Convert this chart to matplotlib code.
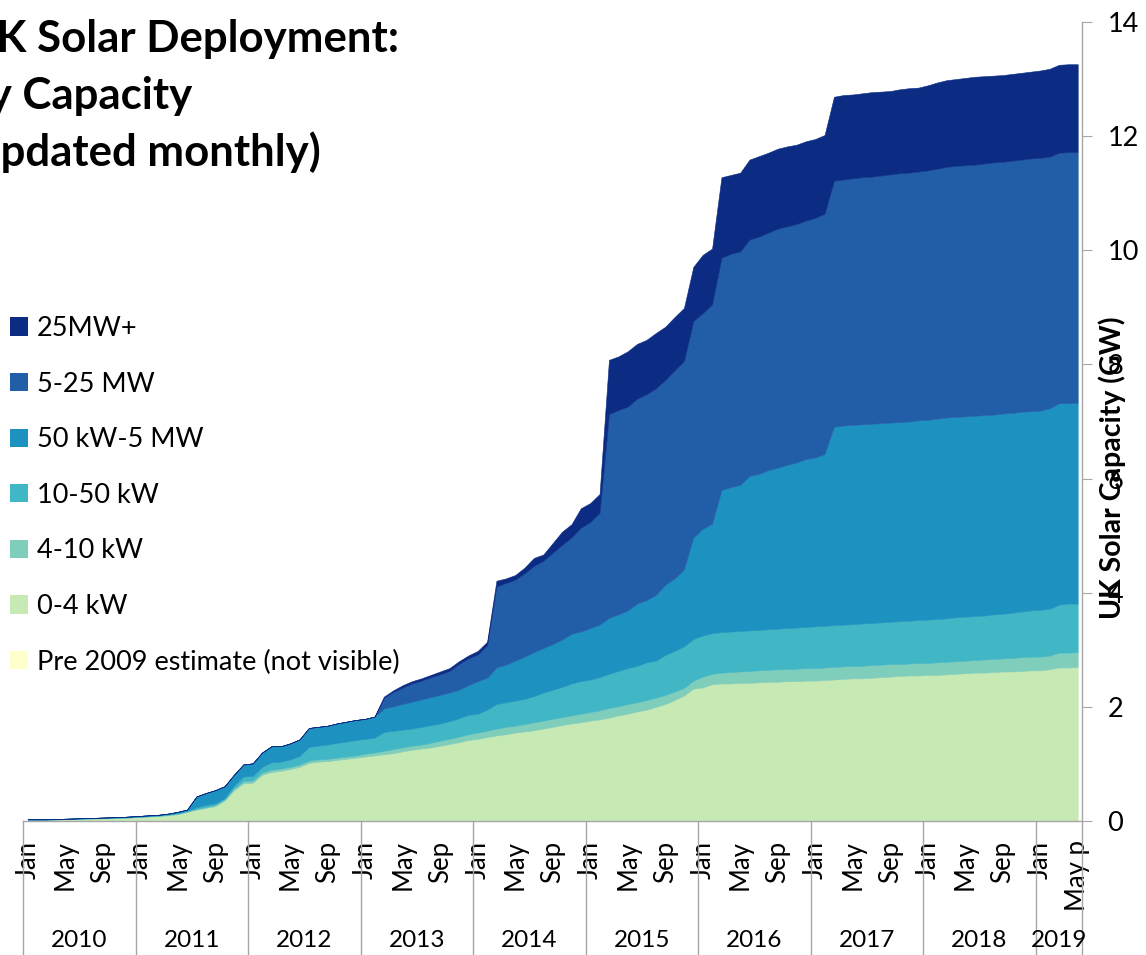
import numpy as np
import matplotlib
matplotlib.use("Agg")
import matplotlib.pyplot as plt
import matplotlib.transforms as mtransforms
from matplotlib.patches import Patch

plt.rcParams['font.family'] = ['Lato', 'DejaVu Sans']

# Años y etiquetas del eje x (meses de enero 2010 a mayo 2019)
years = [2010, 2011, 2012, 2013, 2014, 2015, 2016, 2017, 2018, 2019]
month_names = ['Jan', 'Feb', 'Mar', 'Apr', 'May', 'Jun',
               'Jul', 'Aug', 'Sep', 'Oct', 'Nov', 'Dec']
shown_months = ['Jan', 'May', 'Sep']
last_label = 'May p'

# Estimación pre 2009 (GW), constante
pre_2009_gw = 0.01

# Capacidad acumulada (GW) hasta cada banda de tamaño
cum_0_4kw = [
    0.02, 0.02, 0.02, 0.025, 0.03, 0.034, 0.038, 0.042, 0.046, 0.05, 0.054, 0.06,
    0.07, 0.08, 0.09, 0.10, 0.12, 0.16, 0.20, 0.23, 0.26, 0.36, 0.54, 0.66,
    0.67, 0.81, 0.86, 0.88, 0.91, 0.95, 1.02, 1.04, 1.05, 1.07, 1.09, 1.11,
    1.13, 1.15, 1.17, 1.19, 1.22, 1.25, 1.27, 1.29, 1.32, 1.35, 1.38, 1.42,
    1.44, 1.47, 1.50, 1.52, 1.55, 1.57, 1.59, 1.62, 1.65, 1.68, 1.71, 1.73,
    1.76, 1.78, 1.81, 1.85, 1.88, 1.92, 1.95, 2.00, 2.05, 2.12, 2.20, 2.32,
    2.34, 2.40, 2.41, 2.41, 2.42, 2.42, 2.43, 2.44, 2.44, 2.45, 2.45, 2.46,
    2.46, 2.47, 2.48, 2.49, 2.50, 2.50, 2.51, 2.52, 2.53, 2.54, 2.55, 2.55,
    2.56, 2.56, 2.57, 2.58, 2.59, 2.60, 2.60, 2.61, 2.62, 2.62, 2.63, 2.64,
    2.64, 2.66, 2.69, 2.69, 2.70]
cum_4_10kw = [
    0.023, 0.023, 0.023, 0.028, 0.033, 0.037, 0.042, 0.046, 0.05, 0.055, 0.059, 0.065,
    0.075, 0.085, 0.095, 0.11, 0.13, 0.17, 0.21, 0.245, 0.28, 0.38, 0.57, 0.70,
    0.71, 0.85, 0.90, 0.92, 0.95, 0.99, 1.06, 1.08, 1.09, 1.11, 1.13, 1.15,
    1.18, 1.20, 1.23, 1.26, 1.29, 1.32, 1.34, 1.37, 1.41, 1.44, 1.48, 1.52,
    1.55, 1.58, 1.62, 1.65, 1.67, 1.70, 1.73, 1.76, 1.79, 1.82, 1.85, 1.88,
    1.91, 1.94, 1.98, 2.01, 2.05, 2.08, 2.12, 2.16, 2.21, 2.27, 2.33, 2.46,
    2.53, 2.58, 2.60, 2.61, 2.62, 2.63, 2.64, 2.65, 2.66, 2.66, 2.67, 2.68,
    2.68, 2.69, 2.70, 2.71, 2.72, 2.72, 2.73, 2.74, 2.75, 2.75, 2.76, 2.77,
    2.77, 2.78, 2.79, 2.80, 2.81, 2.82, 2.83, 2.84, 2.85, 2.86, 2.87, 2.88,
    2.88, 2.90, 2.95, 2.95, 2.96]
cum_10_50kw = [
    0.026, 0.026, 0.027, 0.032, 0.038, 0.042, 0.047, 0.052, 0.056, 0.061, 0.066, 0.073,
    0.08, 0.09, 0.10, 0.12, 0.14, 0.18, 0.24, 0.28, 0.31, 0.40, 0.62, 0.78,
    0.79, 0.95, 1.03, 1.04, 1.08, 1.14, 1.30, 1.32, 1.34, 1.37, 1.39, 1.42,
    1.44, 1.46, 1.56, 1.58, 1.60, 1.62, 1.65, 1.68, 1.71, 1.75, 1.80, 1.86,
    1.88, 1.95, 2.05, 2.08, 2.11, 2.14, 2.19, 2.25, 2.30, 2.35, 2.41, 2.45,
    2.48, 2.52, 2.58, 2.63, 2.68, 2.72, 2.78, 2.81, 2.91, 2.98, 3.06, 3.19,
    3.25, 3.29, 3.31, 3.32, 3.33, 3.34, 3.35, 3.36, 3.37, 3.38, 3.39, 3.40,
    3.41, 3.42, 3.43, 3.44, 3.45, 3.46, 3.47, 3.48, 3.49, 3.50, 3.51, 3.52,
    3.53, 3.54, 3.55, 3.57, 3.58, 3.59, 3.60, 3.62, 3.63, 3.65, 3.67, 3.69,
    3.70, 3.72, 3.79, 3.81, 3.81]
cum_50kw_5mw = [
    0.03, 0.03, 0.03, 0.035, 0.04, 0.045, 0.05, 0.055, 0.06, 0.065, 0.07, 0.08,
    0.09, 0.10, 0.11, 0.13, 0.16, 0.20, 0.43, 0.49, 0.54, 0.61, 0.81, 0.99,
    1.01, 1.20, 1.31, 1.31, 1.36, 1.43, 1.63, 1.65, 1.67, 1.71, 1.74, 1.77,
    1.79, 1.83, 1.97, 2.01, 2.05, 2.09, 2.13, 2.17, 2.21, 2.25, 2.30, 2.38,
    2.45, 2.51, 2.69, 2.74, 2.81, 2.88, 2.96, 3.03, 3.10, 3.18, 3.28, 3.32,
    3.38, 3.44, 3.56, 3.62, 3.69, 3.81, 3.87, 3.96, 4.14, 4.25, 4.41, 4.97,
    5.12, 5.21, 5.80, 5.85, 5.89, 6.05, 6.08, 6.15, 6.19, 6.24, 6.28, 6.34,
    6.37, 6.43, 6.91, 6.93, 6.94, 6.95, 6.96, 6.97, 6.98, 6.99, 7.00, 7.02,
    7.03, 7.05, 7.07, 7.08, 7.09, 7.10, 7.11, 7.12, 7.14, 7.15, 7.17, 7.18,
    7.19, 7.23, 7.32, 7.32, 7.33]
cum_5_25mw = [
    0.03, 0.03, 0.03, 0.035, 0.04, 0.045, 0.05, 0.055, 0.06, 0.065, 0.07, 0.08,
    0.09, 0.10, 0.11, 0.13, 0.16, 0.20, 0.43, 0.49, 0.54, 0.61, 0.81, 0.99,
    1.01, 1.20, 1.31, 1.31, 1.36, 1.43, 1.63, 1.65, 1.67, 1.71, 1.74, 1.77,
    1.79, 1.83, 2.16, 2.26, 2.34, 2.41, 2.46, 2.52, 2.57, 2.63, 2.75, 2.85,
    2.92, 3.08, 4.11, 4.17, 4.23, 4.34, 4.47, 4.56, 4.70, 4.84, 4.97, 5.14,
    5.24, 5.40, 7.13, 7.20, 7.26, 7.40, 7.48, 7.58, 7.73, 7.90, 8.06, 8.76,
    8.90, 9.05, 9.87, 9.94, 9.98, 10.19, 10.24, 10.31, 10.38, 10.42, 10.46, 10.52,
    10.57, 10.64, 11.22, 11.24, 11.26, 11.28, 11.29, 11.31, 11.33, 11.35, 11.36, 11.38,
    11.40, 11.43, 11.46, 11.48, 11.49, 11.50, 11.52, 11.54, 11.55, 11.57, 11.59, 11.61,
    11.62, 11.64, 11.71, 11.72, 11.72]
cum_total = [
    0.03, 0.03, 0.03, 0.035, 0.04, 0.045, 0.05, 0.055, 0.06, 0.065, 0.07, 0.08,
    0.09, 0.10, 0.11, 0.13, 0.16, 0.20, 0.43, 0.49, 0.54, 0.61, 0.81, 0.99,
    1.01, 1.20, 1.31, 1.31, 1.36, 1.43, 1.63, 1.65, 1.67, 1.71, 1.74, 1.77,
    1.79, 1.83, 2.18, 2.29, 2.38, 2.45, 2.50, 2.56, 2.62, 2.68, 2.80, 2.90,
    2.98, 3.14, 4.21, 4.25, 4.31, 4.44, 4.61, 4.67, 4.87, 5.07, 5.20, 5.48,
    5.57, 5.73, 8.08, 8.14, 8.23, 8.36, 8.43, 8.55, 8.66, 8.83, 8.99, 9.71,
    9.92, 10.03, 11.28, 11.32, 11.36, 11.59, 11.65, 11.71, 11.78, 11.82, 11.85, 11.91,
    11.95, 12.02, 12.69, 12.72, 12.73, 12.75, 12.77, 12.78, 12.79, 12.82, 12.84, 12.85,
    12.89, 12.94, 12.98, 13.00, 13.02, 13.04, 13.05, 13.06, 13.07, 13.09, 13.11, 13.13,
    13.15, 13.18, 13.25, 13.26, 13.26]

bands = ['Pre 2009 estimate (not visible)', '0-4 kW', '4-10 kW', '10-50 kW',
         '50 kW-5 MW', '5-25 MW', '25MW+']
colors = ['#ffffcc', '#c7e9b4', '#7fcdbb', '#41b6c4', '#1d91c0', '#225ea8', '#0c2c84']
gray = '#a6a6a6'

n = len(cum_total)
x = np.arange(n)

W, H = 1146, 955
fig = plt.figure(figsize=(W / 100, H / 100), dpi=100)
ax = fig.add_axes([23 / W, 134 / H, 1059.4 / W, 799 / H])

# Áreas apiladas entre capas acumuladas
tops = [np.full(n, pre_2009_gw), cum_0_4kw, cum_4_10kw, cum_10_50kw,
        cum_50kw_5mw, cum_5_25mw, cum_total]
lower = np.zeros(n)
for top, c in zip(tops, colors):
    ax.fill_between(x, lower, top, facecolor=c, edgecolor=c, linewidth=0.4)
    lower = np.asarray(top)

ax.set_xlim(-0.5, n - 0.5)
ax.set_ylim(0, 14)

for s in ['top', 'left']:
    ax.spines[s].set_visible(False)
for s in ['right', 'bottom']:
    ax.spines[s].set_color(gray)
    ax.spines[s].set_linewidth(1)

# Eje y a la derecha
ax.yaxis.tick_right()
ax.set_yticks(np.arange(0, 15, 2))
ax.tick_params(axis='y', direction='out', length=7, color=gray, labelsize=19.5, pad=11)

# Etiquetas de meses
tick_pos = [i for i in range(n) if month_names[i % 12] in shown_months]
tick_lab = [month_names[i % 12] for i in tick_pos]
if tick_pos[-1] == n - 1:
    tick_lab[-1] = last_label
ax.set_xticks(tick_pos)
ax.set_xticklabels(tick_lab, rotation=90, va='top', ha='center')
ax.tick_params(axis='x', length=0, labelsize=18.5, pad=14)

# Separadores y etiquetas de años
trans = mtransforms.blended_transform_factory(ax.transData, ax.transAxes)
for k, yr in enumerate(years):
    start = 12 * k - 0.5
    end = min(12 * k + 11.5, n - 0.5)
    ax.plot([start, start], [0, -0.2], transform=trans, color=gray, lw=1, clip_on=False)
    ax.text((start + end) / 2, -0.149, str(yr), transform=trans,
            ha='center', va='center', fontsize=17.5)
ax.plot([n - 0.5, n - 0.5], [0, -0.2], transform=trans, color=gray, lw=1, clip_on=False)

# Título del eje y, centrado a unos 468 px desde arriba
fig.text(1112 / W, (H - 468) / H, 'UK Solar Capacity (GW)', rotation=90,
         ha='center', va='center', fontsize=20.5, fontweight='bold')

# Título (recortado a la izquierda como en el original)
title_lines = ['UK Solar Deployment:', 'by Capacity', '(updated monthly)']
for j, line in enumerate(title_lines):
    fig.text(-36 / W, 1 - (52 + 57 * j) / H, line, ha='left', va='baseline',
             fontsize=31.5, fontweight='bold')

handles = [Patch(facecolor=c, edgecolor='none') for c in colors[::-1]]
fig.legend(handles, bands[::-1], loc='upper left',
           bbox_to_anchor=(10 / W, 1 - 316 / H), frameon=False, fontsize=19.5,
           handlelength=0.65, handleheight=0.65, handletextpad=0.35,
           labelspacing=1.13, borderaxespad=0, borderpad=0)

fig.savefig('out.png', dpi=100)
